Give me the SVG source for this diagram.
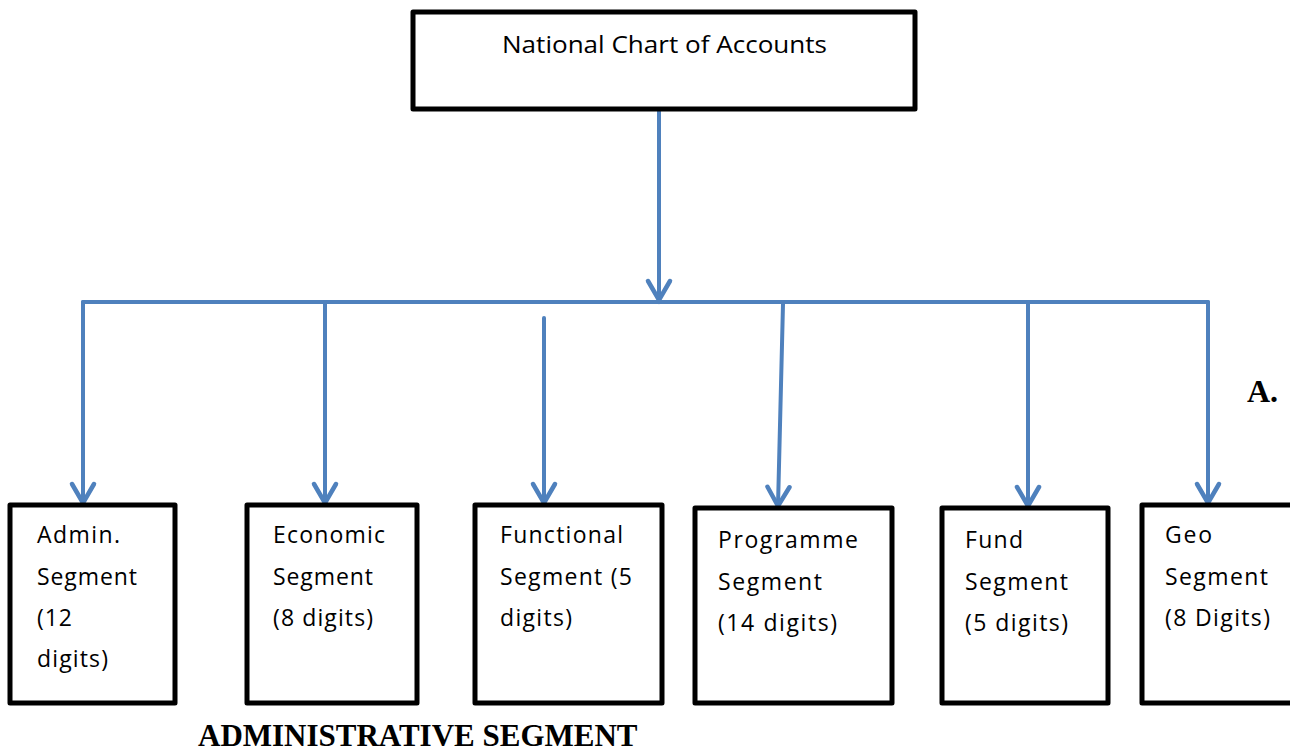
<svg xmlns="http://www.w3.org/2000/svg" width="1290" height="755" viewBox="0 0 1290 755">
<defs>
<style>
.box{fill:#fff;stroke:#000;stroke-width:5;stroke-linejoin:round}
.t{font-family:"Open Sans","Liberation Sans",Arial,sans-serif;font-size:23px;fill:#000}
.title{font-family:"Open Sans","Liberation Sans",Arial,sans-serif;font-size:24px;fill:#000}
.cap{font-family:"Liberation Serif","Times New Roman",serif;font-weight:bold;fill:#000}
.conn{fill:none;stroke:#4F81BD;stroke-width:4;stroke-linecap:round;stroke-linejoin:round}
</style>
<marker id="arr" markerUnits="userSpaceOnUse" viewBox="-22 -14 26 28" refX="0" refY="0" markerWidth="26" markerHeight="28" orient="auto" overflow="visible">
<path d="M-19,-11 L0,0 L-19,11" fill="none" stroke="#4F81BD" stroke-width="4.5" stroke-linecap="round" stroke-linejoin="miter"/>
</marker>
</defs>
<rect width="1290" height="755" fill="#fff"/>

<g id="connectors">
<line class="conn" x1="659" y1="110" x2="659" y2="300" marker-end="url(#arr)"/>
<line class="conn" x1="83" y1="302" x2="1208" y2="302"/>
<line class="conn" x1="83" y1="302" x2="83" y2="503" marker-end="url(#arr)"/>
<line class="conn" x1="325" y1="302" x2="325" y2="503" marker-end="url(#arr)"/>
<line class="conn" x1="544" y1="318" x2="544" y2="503" marker-end="url(#arr)"/>
<line class="conn" x1="783" y1="304" x2="778" y2="506" marker-end="url(#arr)"/>
<line class="conn" x1="1028" y1="302" x2="1028" y2="506" marker-end="url(#arr)"/>
<line class="conn" x1="1208" y1="302" x2="1208" y2="503" marker-end="url(#arr)"/>
</g>

<g id="national-chart">
<rect class="box" x="413" y="12" width="502" height="97"/>
<text class="title" x="502" y="53" textLength="325" lengthAdjust="spacingAndGlyphs">National Chart of Accounts</text>
</g>

<g id="admin-segment">
<rect class="box" x="10" y="505" width="165" height="198"/>
<text class="t" x="37" y="543" textLength="83">Admin.</text>
<text class="t" x="37" y="585" textLength="100">Segment</text>
<text class="t" x="37" y="626" textLength="35">(12</text>
<text class="t" x="37" y="667" textLength="71">digits)</text>
</g>

<g id="economic-segment">
<rect class="box" x="247" y="505" width="170" height="198"/>
<text class="t" x="273" y="543" textLength="112">Economic</text>
<text class="t" x="273" y="585" textLength="100">Segment</text>
<text class="t" x="273" y="626" textLength="100">(8 digits)</text>
</g>

<g id="functional-segment">
<rect class="box" x="475" y="505" width="187" height="198"/>
<text class="t" x="500" y="543" textLength="123">Functional</text>
<text class="t" x="500" y="585" textLength="132">Segment (5</text>
<text class="t" x="500" y="626" textLength="72">digits)</text>
</g>

<g id="programme-segment">
<rect class="box" x="695" y="508" width="197" height="195"/>
<text class="t" x="718" y="548" textLength="140">Programme</text>
<text class="t" x="718" y="590" textLength="104">Segment</text>
<text class="t" x="718" y="631" textLength="119">(14 digits)</text>
</g>

<g id="fund-segment">
<rect class="box" x="942" y="508" width="166" height="195"/>
<text class="t" x="965" y="548" textLength="58">Fund</text>
<text class="t" x="965" y="590" textLength="103">Segment</text>
<text class="t" x="965" y="631" textLength="103">(5 digits)</text>
</g>

<g id="geo-segment">
<rect class="box" x="1142" y="505" width="170" height="198"/>
<text class="t" x="1165" y="543" textLength="47">Geo</text>
<text class="t" x="1165" y="585" textLength="103">Segment</text>
<text class="t" x="1165" y="626" textLength="105">(8 Digits)</text>
</g>

<text class="cap" x="1247" y="402" font-size="32">A.</text>
<text class="cap" x="198" y="746" font-size="31">ADMINISTRATIVE SEGMENT</text>
</svg>
